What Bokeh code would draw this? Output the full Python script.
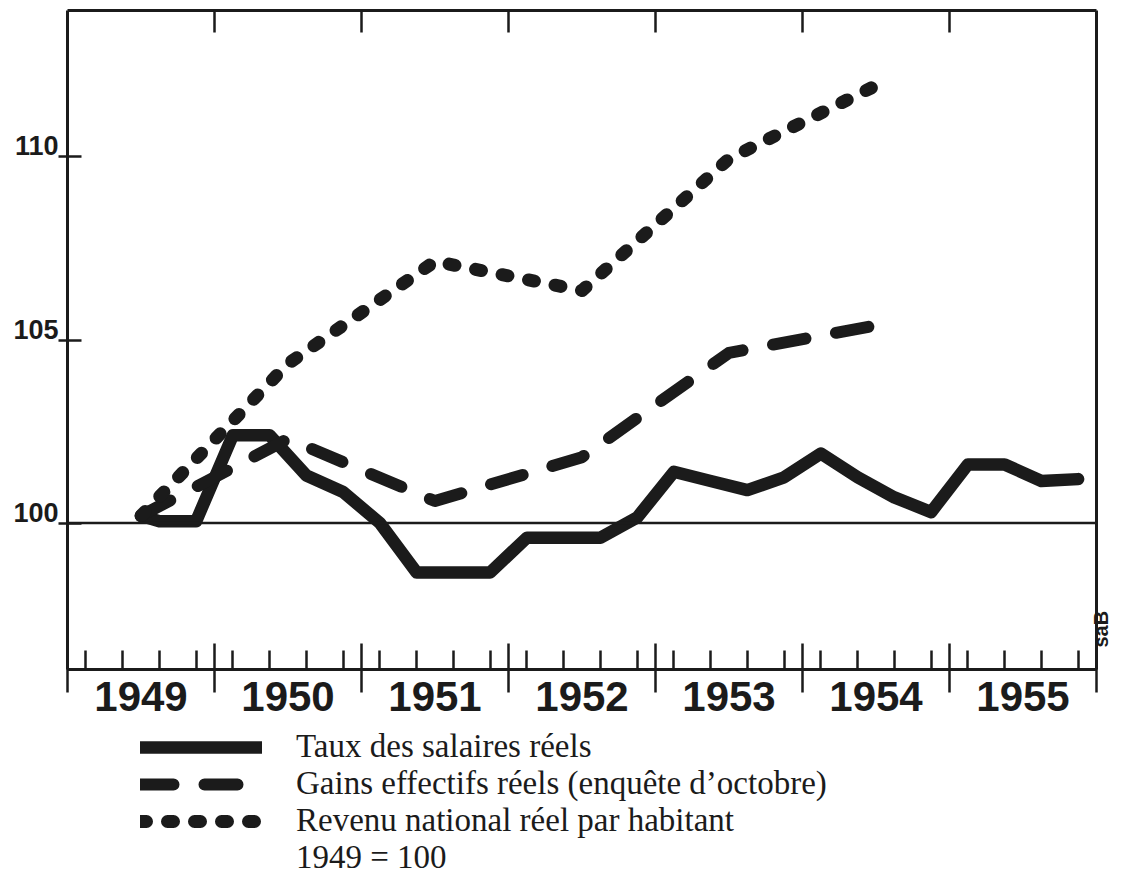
import math
from bokeh.plotting import figure
from bokeh.layouts import column
from bokeh.models import (LinearAxis, FixedTicker, Range1d, Span, Legend,
                          LegendItem)
from bokeh.embed import file_html
from bokeh.resources import INLINE

# ---------------- data ----------------
years = ["1949", "1950", "1951", "1952", "1953", "1954", "1955"]
y_tick_values = [100, 105, 110]
y_tick_labels = ["100", "105", "110"]

# Taux des salaires réels (quarterly)
taux_t = [1949.5, 1949.625, 1949.875,
          1950.125, 1950.375, 1950.625, 1950.875,
          1951.125, 1951.375, 1951.625, 1951.875,
          1952.125, 1952.375, 1952.625, 1952.875,
          1953.125, 1953.375, 1953.625, 1953.875,
          1954.125, 1954.375, 1954.625, 1954.875,
          1955.125, 1955.375, 1955.625, 1955.875]
taux_v = [100.2, 100.05, 100.05,
          102.4, 102.4, 101.3, 100.85,
          100.0, 98.65, 98.65, 98.65,
          99.6, 99.6, 99.6, 100.15,
          101.4, 101.15, 100.9, 101.25,
          101.9, 101.25, 100.7, 100.3,
          101.6, 101.6, 101.15, 101.2]

# Gains effectifs réels (enquête d'octobre)
gains_t = [1949.5, 1950.5, 1951.5, 1952.5, 1953.5, 1954.5]
gains_v = [100.2, 102.3, 100.6, 101.8, 104.65, 105.4]

# Revenu national réel par habitant
revenu_t = [1949.5, 1950.5, 1951.5, 1952.5, 1953.5, 1954.5]
revenu_v = [100.2, 104.35, 107.15, 106.35, 109.95, 111.95]

series_labels = ["Taux des salaires réels",
                 "Gains effectifs réels (enquête d’octobre)",
                 "Revenu national réel par habitant"]
base_note = "1949 = 100"
signature = "saB"
signature_at = 96.6

# ---------------- styling ----------------
INK = "#1b1b1b"
STYLES = [dict(line_width=12.5),
          dict(line_width=12, line_dash="33 31"),
          dict(line_width=13, line_dash="6 21")]
first_year = int(years[0])
last_year = int(years[-1]) + 1
bounds = list(range(first_year, last_year + 1))
centers = [first_year + i + 0.5 for i in range(len(years))]
quarters = [y + 0.125 + 0.25 * k for y in range(first_year, last_year) for k in range(4)]

p = figure(width=1126, height=725,
           x_range=Range1d(first_year, last_year), y_range=Range1d(96, 114),
           output_backend="svg", toolbar_location=None,
           x_axis_location=None, y_axis_location=None,
           min_border_left=67, min_border_right=28,
           min_border_top=10, min_border_bottom=56)
p.grid.visible = False
p.outline_line_color = None
p.background_fill_color = "white"
p.border_fill_color = "white"
p.extra_y_ranges = {"lab": Range1d(96 - 0.3, 114 - 0.3)}


def hidden_labels(ax, ticks):
    ax.major_label_overrides = {t: "" for t in ticks}
    ax.major_label_text_color = None
    ax.major_label_text_font_size = "1px"
    ax.major_label_standoff = 0


def no_tick_lines(ax):
    ax.major_tick_line_color = None
    ax.minor_tick_line_color = None
    ax.major_tick_in = 0
    ax.major_tick_out = 0
    ax.minor_tick_in = 0
    ax.minor_tick_out = 0


# top axis: inward year-boundary ticks
top_ticks = bounds[1:-1]
top = LinearAxis(ticker=FixedTicker(ticks=top_ticks))
top.major_tick_in = 22
top.major_tick_out = 0
top.minor_tick_out = 0
top.minor_tick_line_color = None
top.major_tick_line_width = 2.5
top.major_tick_line_color = INK
top.axis_line_width = 3
top.axis_line_color = INK
hidden_labels(top, top_ticks)
p.add_layout(top, "above")

# bottom axis 1: year-boundary ticks and quarter ticks
b1 = LinearAxis(ticker=FixedTicker(ticks=bounds, minor_ticks=quarters))
b1.major_tick_in = 26
b1.major_tick_out = 23
b1.minor_tick_in = 19
b1.minor_tick_out = 0
b1.major_tick_line_width = 2.5
b1.minor_tick_line_width = 2.5
b1.major_tick_line_color = INK
b1.minor_tick_line_color = INK
b1.axis_line_width = 3
b1.axis_line_color = INK
hidden_labels(b1, bounds)
p.add_layout(b1, "below")

# bottom axis 2: year labels centred in each year
b2 = LinearAxis(ticker=FixedTicker(ticks=centers),
                major_label_overrides={c: y for c, y in zip(centers, years)})
no_tick_lines(b2)
b2.axis_line_color = None
b2.major_label_text_font = "Liberation Sans"
b2.major_label_text_font_style = "bold"
b2.major_label_text_font_size = "42px"
b2.major_label_text_color = INK
b2.major_label_standoff = -11
p.add_layout(b2, "below")

# left axis 1: crossing ticks
l1 = LinearAxis(ticker=FixedTicker(ticks=y_tick_values))
l1.major_tick_in = 14
l1.major_tick_out = 9
l1.minor_tick_out = 0
l1.minor_tick_line_color = None
l1.major_tick_line_width = 2.5
l1.major_tick_line_color = INK
l1.axis_line_width = 3
l1.axis_line_color = INK
hidden_labels(l1, y_tick_values)
p.add_layout(l1, "left")

# left axis 2: labels sitting on top of the ticks
l2 = LinearAxis(y_range_name="lab", ticker=FixedTicker(ticks=y_tick_values),
                major_label_overrides={v: s for v, s in zip(y_tick_values, y_tick_labels)})
no_tick_lines(l2)
l2.axis_line_color = None
l2.major_label_text_font = "Liberation Sans"
l2.major_label_text_font_style = "bold"
l2.major_label_text_font_size = "27px"
l2.major_label_text_color = INK
l2.major_label_standoff = 0
p.add_layout(l2, "left")

# right axis: frame line and the signature
r = LinearAxis(ticker=FixedTicker(ticks=[signature_at]),
               major_label_overrides={signature_at: signature})
no_tick_lines(r)
r.axis_line_width = 3
r.axis_line_color = INK
r.major_label_text_font = "Liberation Sans"
r.major_label_text_font_style = "bold"
r.major_label_text_font_size = "20px"
r.major_label_text_color = INK
r.major_label_orientation = math.pi / 2
r.major_label_standoff = 5
p.add_layout(r, "right")

p.add_layout(Span(location=100, dimension="width", line_color=INK, line_width=2.5))

p.line(taux_t, taux_v, line_color=INK, line_join="round", line_cap="round", **STYLES[0])
p.line(gains_t, gains_v, line_color=INK, line_join="round", line_cap="round", **STYLES[1])
p.line(revenu_t, revenu_v, line_color=INK, line_join="round", line_cap="round", **STYLES[2])

# ---------------- legend (own panel below the chart) ----------------
q = figure(width=1126, height=151, x_range=Range1d(0, 1), y_range=Range1d(0, 1),
           output_backend="svg", toolbar_location=None,
           x_axis_location=None, y_axis_location=None,
           min_border_left=0, min_border_right=0, min_border_top=0, min_border_bottom=0)
q.grid.visible = False
q.outline_line_color = None
q.background_fill_color = "white"
q.border_fill_color = "white"

NAN = float("nan")
keys = [q.line([NAN], [NAN], line_color=INK, line_join="round", line_cap="round", **s)
        for s in STYLES]
note_key = q.line([NAN], [NAN], line_alpha=0)

legend = Legend(items=[LegendItem(label=lab, renderers=[k]) for lab, k in zip(series_labels, keys)]
                + [LegendItem(label=base_note, renderers=[note_key])],
                location=(73, 0), orientation="vertical",
                glyph_width=122, glyph_height=36, label_height=36,
                label_standoff=34, spacing=0, padding=0, margin=0,
                border_line_color=None, background_fill_alpha=0,
                label_text_font="Liberation Serif", label_text_font_size="33px",
                label_text_color=INK)
q.add_layout(legend, "center")

open("out.html", "w").write(file_html(column(p, q, spacing=0), INLINE))
